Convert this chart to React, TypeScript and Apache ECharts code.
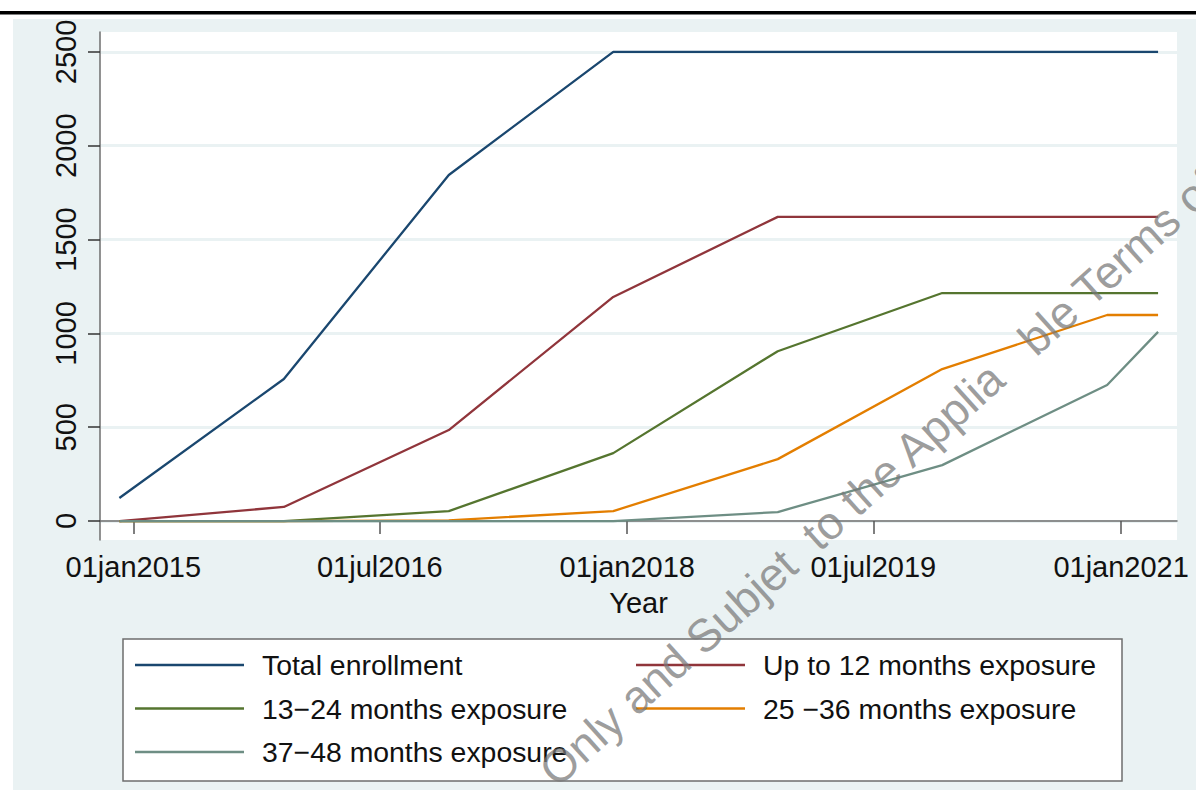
import React, { useEffect, useRef } from 'react';
import * as echarts from 'echarts';

const dates = ['2014-12-01', '2015-12-01', '2016-12-01', '2017-12-01', '2018-12-01', '2019-12-01', '2020-12-01', '2021-03-24'];
const totalEnrollment = [123, 757, 1844, 2500, 2500, 2500, 2500, 2500];
const upTo12 = [0, 75, 485, 1194, 1621, 1621, 1621, 1621];
const m13to24 = [0, 0, 53, 362, 905, 1215, 1215, 1215];
const m25to36 = [0, 0, 4, 53, 330, 810, 1098, 1098];
const m37to48 = [0, 0, 0, 0, 48, 298, 725, 1008];

const seriesNames = [
  'Total enrollment',
  'Up to 12 months exposure',
  '13\u221224 months exposure',
  '25 \u221236 months exposure',
  '37\u221248 months exposure',
];
const seriesValues = [totalEnrollment, upTo12, m13to24, m25to36, m37to48];
const seriesColors = ['#1a476f', '#90353b', '#55752f', '#e37e00', '#6e8e84'];

const xTickDates = ['2015-01-01', '2016-07-01', '2018-01-01', '2019-07-01', '2021-01-01'];
const yTicks = [0, 500, 1000, 1500, 2000, 2500];
const monthNames = ['jan', 'feb', 'mar', 'apr', 'may', 'jun', 'jul', 'aug', 'sep', 'oct', 'nov', 'dec'];
const xTitle = 'Year';
const watermark = 'Only and Subjet  to the Applia   ble Terms of';

const FONT = '"Liberation Sans", Arial, Helvetica, sans-serif';

function toTime(s: string): number {
  const [y, m, d] = s.split('-').map(Number);
  return Date.UTC(y, m - 1, d);
}

function fmtDate(v: number): string {
  const d = new Date(v);
  const dd = String(d.getUTCDate()).padStart(2, '0');
  return dd + monthNames[d.getUTCMonth()] + d.getUTCFullYear();
}

export default function App() {
  const ref = useRef<HTMLDivElement>(null);

  useEffect(() => {
    if (!ref.current) return;
    const chart = echarts.init(ref.current, undefined, { renderer: 'svg' });
    const xTickValues = xTickDates.map(toTime);

    const series = seriesNames.map((name, i) => ({
      name,
      type: 'line',
      symbol: 'none',
      showSymbol: false,
      color: seriesColors[i],
      lineStyle: { color: seriesColors[i], width: 2.3 },
      data: dates.map((d, j) => [toTime(d), seriesValues[i][j]]),
      z: 2 + i,
    }));

    const legendText = {
      fontSize: 28.4,
      fontFamily: FONT,
      color: '#111',
      padding: [0, 0, 0, 13],
      lineHeight: 30,
    };

    const legendCommon = {
      orient: 'vertical',
      top: 650,
      padding: 0,
      icon: 'rect',
      itemWidth: 109,
      itemHeight: 2.3,
      itemGap: 13.5,
      selectedMode: false,
      textStyle: legendText,
      z: 5,
    };

    chart.setOption({
      animation: false,
      backgroundColor: '#eaf2f3',
      grid: {
        left: 100,
        right: 19,
        top: 32,
        bottom: 250,
        show: true,
        backgroundColor: '#ffffff',
        borderWidth: 0,
      },
      xAxis: {
        type: 'value',
        min: toTime('2014-10-19'),
        max: toTime('2021-05-05'),
        axisLine: { show: true, lineStyle: { color: '#6e6e6e', width: 1.5 } },
        axisTick: { show: true, length: 13, customValues: xTickValues, lineStyle: { color: '#555', width: 1.5 } },
        axisLabel: {
          customValues: xTickValues,
          formatter: (v: number) => fmtDate(v),
          fontSize: 29,
          fontFamily: FONT,
          color: '#111',
          margin: 12,
        },
        splitLine: { show: false },
        name: xTitle,
        nameLocation: 'middle',
        nameGap: 48,
        nameTextStyle: { fontSize: 29, fontFamily: FONT, color: '#111' },
      },
      yAxis: {
        type: 'value',
        min: -101,
        max: 2606,
        axisLine: { show: true, lineStyle: { color: '#6e6e6e', width: 1.5 } },
        axisTick: { show: true, length: 12, customValues: yTicks, lineStyle: { color: '#333', width: 1.5 } },
        axisLabel: {
          customValues: yTicks,
          formatter: (v: number) => String(v),
          rotate: 90,
          fontSize: 29,
          fontFamily: FONT,
          color: '#111',
          margin: 20,
        },
        splitLine: { show: true, lineStyle: { color: '#eaf2f3', width: 3 } },
      },
      legend: [
        {
          ...legendCommon,
          data: [seriesNames[0], seriesNames[2], seriesNames[4]],
          left: 135,
        },
        {
          ...legendCommon,
          data: [seriesNames[1], seriesNames[3]],
          left: 636,
        },
      ],
      graphic: [
        { type: 'rect', z: 0, shape: { x: 0, y: 0, width: 1196, height: 19 }, style: { fill: '#ffffff' } },
        { type: 'rect', z: 0, shape: { x: 0, y: 0, width: 13, height: 790 }, style: { fill: '#ffffff' } },
        { type: 'rect', z: 1, shape: { x: 0, y: 11, width: 1196, height: 3.5 }, style: { fill: '#000000' } },
        {
          type: 'rect',
          z: 1,
          shape: { x: 123, y: 639, width: 999, height: 142 },
          style: { fill: '#ffffff', stroke: '#6e6e6e', lineWidth: 1.5 },
        },
        {
          type: 'text',
          z: 50,
          x: 562,
          y: 794,
          rotation: (42 * Math.PI) / 180,
          style: {
            text: watermark,
            fontSize: 46,
            fontFamily: FONT,
            fill: 'rgba(120,120,120,0.72)',
            verticalAlign: 'bottom',
            align: 'left',
          },
        },
      ],
      series,
    });

    return () => {
      chart.dispose();
    };
  }, []);

  return (
    <div
      ref={ref}
      style={{ position: 'absolute', left: 0, top: 0, width: 1196, height: 790 }}
    />
  );
}
